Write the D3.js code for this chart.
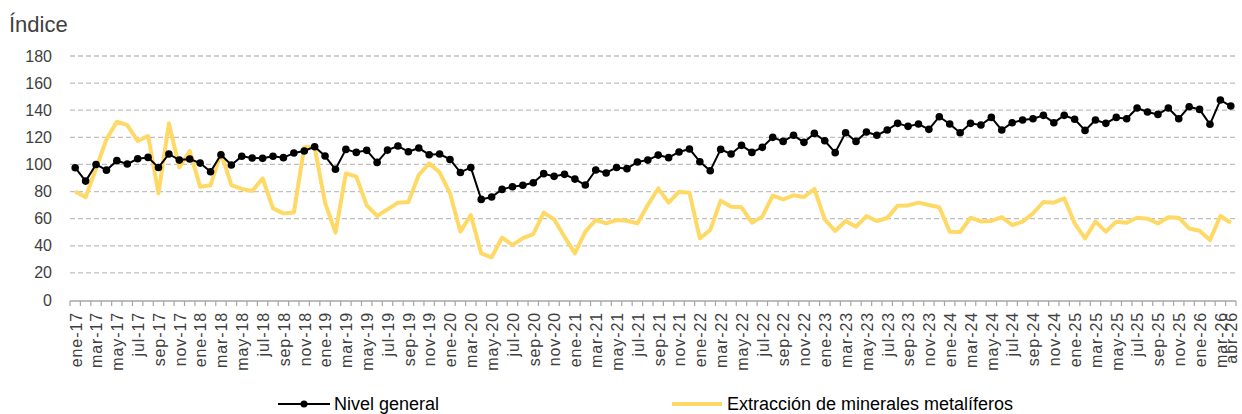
<!DOCTYPE html>
<html><head><meta charset="utf-8">
<script src="https://cdn.jsdelivr.net/npm/d3@7"></script>
<style>html,body{margin:0;padding:0;background:#fff;}svg{display:block;font-family:"Liberation Sans",Arial,sans-serif;}</style>
</head><body><svg id="c" width="1242" height="414"></svg>
<script>
const monthNames = ["ene","feb","mar","abr","may","jun","jul","ago","sep","oct","nov","dic"];
const categories = [];
for (let yy = 17; yy <= 26; yy++) for (let m = 0; m < 12; m++) { if (yy === 26 && m > 3) break; categories.push(monthNames[m] + "-" + yy); }

const nivelGeneral = [
 97.6,87.7,100,95.8,102.8,100.3,104.2,105.2,97.8,107.7,103.2,104,
 101,94.6,107.2,99.6,106,104.7,104.5,106,105,108.4,109.9,113.1,
 106.2,96.4,111.1,108.9,110.4,101.5,110.6,113.6,109.4,112.1,107.2,107.7,
 103.7,94.1,97.8,74.2,76,81.6,83.6,84.6,86.5,93.2,91.2,92.7,
 89.2,84.8,95.9,93.7,97.8,96.9,101.8,103.2,106.9,105,109.2,111.4,
 102,95.4,111.1,107.7,114.1,108.9,112.6,120,117,121.5,116.3,122.9,
 117.5,108.7,123.4,117,123.9,121.5,125.4,130.3,128.1,129.8,125.9,135.2,
 129.8,123.4,130.3,129.1,134.7,125.4,130.8,132.8,133.7,136.2,130.8,136.2,
 133.3,125.1,132.8,130.3,134.7,133.7,141.6,138.7,136.9,141.6,133.7,142.6,
 140.6,129.6,147.5,143.1
];
const mineralesMetaliferos = [
 80,75.8,97,118.5,131.5,129,117.3,121,78.7,130.3,97.8,109.8,
 83.6,84.6,108.7,84.8,82,80.4,89.8,67.6,63.9,64.6,112.6,112.6,
 71.8,49.7,93.4,91,69.8,62,66.9,71.8,72.3,92.2,100.8,94.2,
 78.7,50.4,62.7,34.4,31.4,46.1,40.5,45.7,48.6,64.4,59.5,46.7,
 34.4,50.4,59,56.5,59,58.5,56.5,70,82.3,71.8,79.9,79.2,
 45.5,51.6,73.3,68.8,68.4,57,61.5,77,74.3,77.2,76,81.9,
 59.5,50.9,58.3,54.1,61.9,58.3,60.5,69.6,69.8,71.8,70.1,68.4,
 50.4,50.2,60.7,58,58.3,61.2,55.3,57.8,63.9,72.3,71.8,75,
 56.5,45.5,57.8,50.4,57.8,57,60.7,60,56.5,61,60.7,52.8,
 51.1,44.2,62,57
];
const yTicks = [0,20,40,60,80,100,120,140,160,180];
const seriesNames = ["Nivel general","Extracción de minerales metalíferos"];

const svg = d3.select("#c");
const pLeft = 70, pRight = 1236, pTop = 56, pBottom = 300;
const x = d3.scaleBand().domain(d3.range(categories.length)).range([pLeft, pRight]).padding(0);
const cx = i => x(i) + x.bandwidth() / 2;
const y = d3.scaleLinear().domain([0, 180]).range([pBottom, pTop]);

// gridlines
svg.append("g").selectAll("line").data(yTicks.filter(d => d > 0)).join("line")
  .attr("x1", pLeft).attr("x2", pRight)
  .attr("y1", d => y(d)).attr("y2", d => y(d))
  .attr("stroke", "#BFBFBF").attr("stroke-width", 1.3).attr("stroke-dasharray", "5,3");

// y tick labels
svg.append("g").selectAll("text").data(yTicks).join("text")
  .attr("x", 52).attr("y", d => y(d) + 5.5)
  .attr("text-anchor", "end").attr("font-size", 16).attr("fill", "#404040")
  .text(d => d);

svg.append("text").attr("x", 9).attr("y", 32).attr("font-size", 22).attr("fill", "#404040").text("Índice");

// x axis
const ax = svg.append("g");
ax.append("line").attr("x1", pLeft).attr("x2", pRight).attr("y1", pBottom + 1).attr("y2", pBottom + 1)
  .attr("stroke", "#A6A6A6").attr("stroke-width", 1.5);
const bounds = d3.range(categories.length + 1).map(i => i < categories.length ? x(i) : pRight);
ax.selectAll("line.t").data(bounds).join("line").attr("class", "t")
  .attr("x1", d => d).attr("x2", d => d).attr("y1", pBottom + 1).attr("y2", pBottom + 6)
  .attr("stroke", "#A6A6A6").attr("stroke-width", 1.2);
const labelIdx = d3.range(categories.length).filter(i => i % 2 === 0 || i === categories.length - 1);
ax.selectAll("text").data(labelIdx).join("text")
  .attr("transform", i => `translate(${cx(i) + 6.3},${pBottom + 12}) rotate(-90)`)
  .attr("text-anchor", "end").attr("font-size", 16).attr("letter-spacing", 0.9).attr("fill", "#404040")
  .text(i => categories[i]);

// lines
const lineGen = arr => d3.line().x((d, i) => cx(i)).y(d => y(d))(arr);
svg.append("path").attr("d", lineGen(mineralesMetaliferos)).attr("fill", "none")
  .attr("stroke", "#FFD966").attr("stroke-width", 4).attr("stroke-linejoin", "round");
svg.append("path").attr("d", lineGen(nivelGeneral)).attr("fill", "none")
  .attr("stroke", "#000").attr("stroke-width", 2).attr("stroke-linejoin", "round");
svg.append("g").selectAll("circle").data(nivelGeneral).join("circle")
  .attr("cx", (d, i) => cx(i)).attr("cy", d => y(d)).attr("r", 3.8).attr("fill", "#000");

// legend
const lg = svg.append("g");
lg.append("line").attr("x1", 278).attr("x2", 330).attr("y1", 404).attr("y2", 404).attr("stroke", "#000").attr("stroke-width", 2);
lg.append("circle").attr("cx", 304).attr("cy", 404).attr("r", 3.5).attr("fill", "#000");
lg.append("text").attr("x", 334).attr("y", 409.5).attr("font-size", 18).attr("fill", "#000").text(seriesNames[0]);
lg.append("line").attr("x1", 672).attr("x2", 722).attr("y1", 404).attr("y2", 404).attr("stroke", "#FFD966").attr("stroke-width", 4);
lg.append("text").attr("x", 727).attr("y", 409.5).attr("font-size", 18).attr("fill", "#000").text(seriesNames[1]);
</script></body></html>
